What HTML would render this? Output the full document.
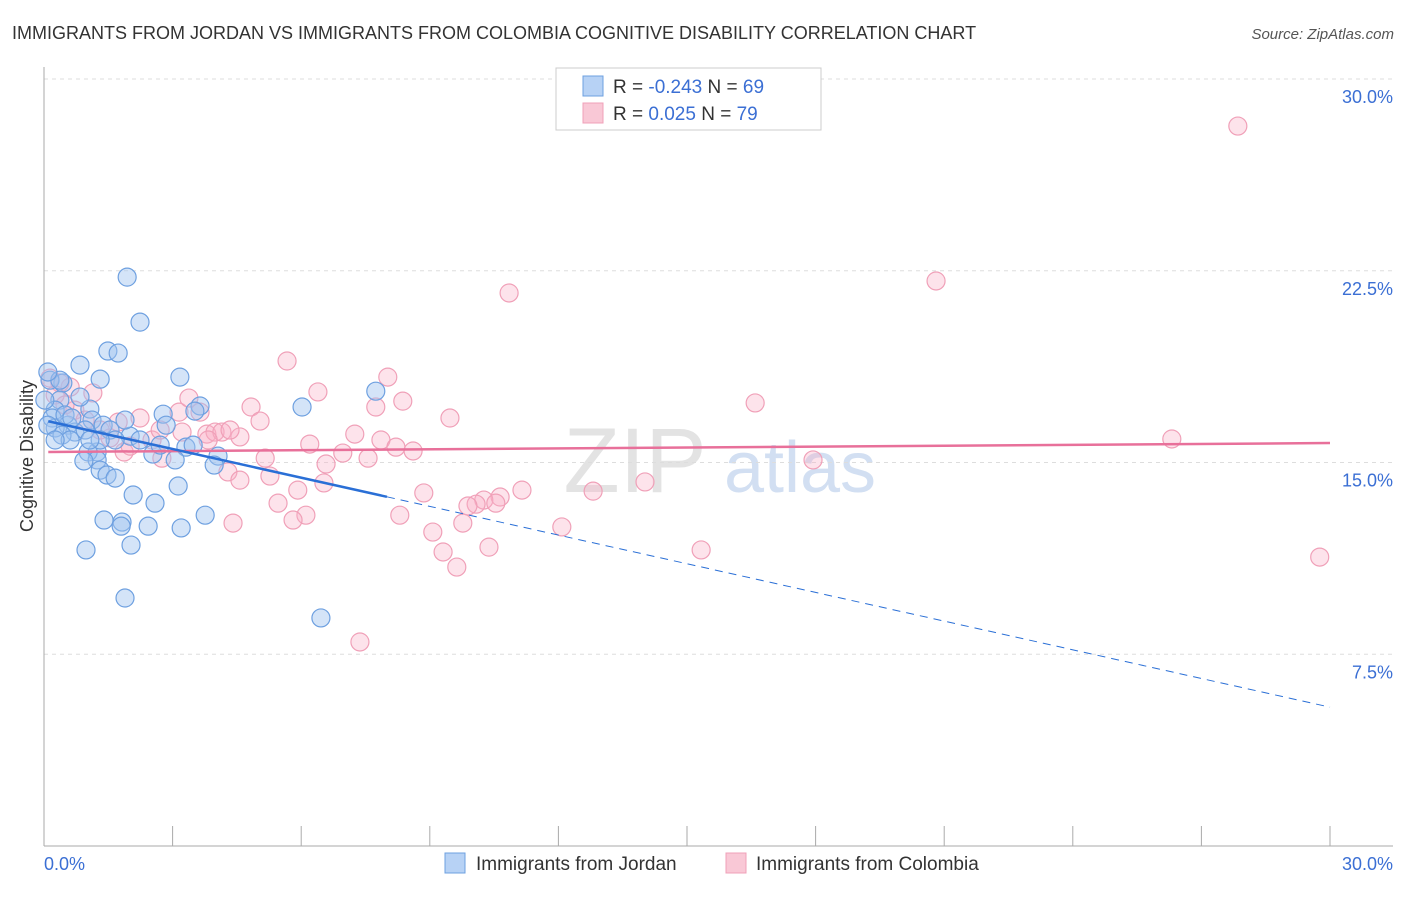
<!DOCTYPE html>
<html><head><meta charset="utf-8">
<style>
body{margin:0;background:#fff;font-family:"Liberation Sans",sans-serif;}
svg text{font-family:"Liberation Sans",sans-serif;}
</style></head>
<body>
<svg id="chart" width="1406" height="892" xmlns="http://www.w3.org/2000/svg">
<text x="12" y="39" font-size="18" fill="#333">IMMIGRANTS FROM JORDAN VS IMMIGRANTS FROM COLOMBIA COGNITIVE DISABILITY CORRELATION CHART</text>
<text x="1394" y="39" font-size="15" fill="#555" text-anchor="end" font-style="italic">Source: ZipAtlas.com</text>
<text transform="translate(33,456) rotate(-90)" font-size="18" fill="#333" text-anchor="middle">Cognitive Disability</text>
<g>
<text x="635" y="492" font-size="92" fill="#ddd" font-family="Liberation Serif" text-anchor="middle" opacity="0.8">ZIP</text>
<text x="800" y="492" font-size="72" fill="#c8d8ef" text-anchor="middle" opacity="0.8">atlas</text>
</g>
<g id="grid"></g>
<g id="axes"></g>
<g id="pts"></g>
<g id="trends"></g>
<g>
<rect x="556" y="68" width="265" height="62" fill="#fff" stroke="#ccc"/>
<rect x="583" y="76" width="20" height="20" fill="#b7d2f5" stroke="#6ea0e0"/>
<rect x="583" y="103" width="20" height="20" fill="#f9c8d6" stroke="#f0a0b8"/>
<text x="613" y="93" font-size="19" fill="#333">R = <tspan fill="#3b6fd4">-0.243</tspan>   N = <tspan fill="#3b6fd4">69</tspan></text>
<text x="613" y="120" font-size="19" fill="#333">R =  <tspan fill="#3b6fd4">0.025</tspan>   N = <tspan fill="#3b6fd4">79</tspan></text>
</g>
<g>
<rect x="445" y="853" width="20" height="20" fill="#b7d2f5" stroke="#6ea0e0"/>
<text x="476" y="870" font-size="19" fill="#333">Immigrants from Jordan</text>
<rect x="726" y="853" width="20" height="20" fill="#f9c8d6" stroke="#f0a0b8"/>
<text x="756" y="870" font-size="19" fill="#333">Immigrants from Colombia</text>
</g>
</svg>
<script>
const yTicks=[7.5,15,22.5,30];
const yTickLabels=["7.5%","15.0%","22.5%","30.0%"];
const xTickLabels=["0.0%","30.0%"];
const jordanX=[1.94,2.24,1.49,1.73,0.84,1.31,3.17,0.44,0.14,7.74,6.02,3.64,3.52,2.78,1.07,0.84,0.37,0.26,0.19,1.12,0.56,2.85,1.38,0.26,0.72,1.54,2.01,0.42,0.09,3.31,3.48,2.54,1.24,1.03,1.66,1.24,0.93,4.06,3.97,1.31,1.47,1.66,3.13,2.08,2.59,1.40,1.82,1.80,2.43,3.20,3.76,2.03,0.98,1.89,6.46,0.37,0.09,0.02,0.61,0.49,0.96,1.89,2.24,0.26,0.65,1.31,2.71,3.06,1.07];
const jordanY=[22.25,20.49,19.36,19.28,18.81,18.26,18.34,18.11,18.22,17.79,17.17,17.21,17.01,16.89,17.09,17.56,17.44,17.05,16.74,16.66,16.46,16.46,16.46,16.35,16.19,16.27,16.03,16.07,16.46,15.60,15.68,15.33,15.41,15.41,15.88,15.10,15.06,15.25,14.90,14.70,14.51,14.39,14.08,13.73,13.41,12.75,12.67,12.51,12.51,12.44,12.94,11.77,11.58,9.70,8.92,18.22,18.54,17.44,15.88,16.86,16.27,16.66,15.88,15.88,16.74,15.88,15.68,15.10,15.88];
const colombiaX=[27.85,20.81,10.85,5.67,8.02,6.39,8.37,7.74,4.83,16.59,9.47,5.04,3.15,3.38,1.14,0.61,0.37,0.26,0.72,1.73,2.24,2.52,3.64,3.80,3.99,4.15,4.57,3.83,3.22,7.25,7.86,8.21,8.61,6.20,6.97,7.56,5.16,6.58,2.75,1.87,2.01,26.31,17.94,4.29,4.57,5.27,5.92,6.53,8.86,11.15,10.64,10.26,10.08,10.54,9.89,5.46,6.11,5.81,8.30,9.07,9.77,12.08,12.81,14.02,4.41,15.33,10.38,9.31,9.63,7.37,29.76,0.96,1.31,0.14,0.49,1.54,2.71,4.34];
const colombiaY=[28.16,22.10,21.63,18.97,18.34,17.76,17.40,17.17,17.17,17.33,16.74,16.62,16.97,17.52,17.72,17.95,18.11,17.64,17.05,16.58,16.74,15.88,16.97,16.11,16.19,16.19,16.00,15.88,16.19,16.11,15.88,15.60,15.45,15.72,15.37,15.17,15.17,14.94,15.17,15.41,15.64,15.92,15.10,14.63,14.31,14.47,13.92,14.20,13.81,13.92,13.65,13.53,13.37,13.41,13.30,13.41,12.94,12.75,12.94,12.28,12.63,12.48,13.88,14.24,12.63,11.58,11.69,11.50,10.91,7.98,11.30,16.66,16.27,18.30,17.25,15.96,16.27,16.27];
const jordanTrend=[16.65,-0.374,8.0];
const colombiaTrend=[15.41,0.0117];
const NS="http://www.w3.org/2000/svg";
const X=v=>44+v*(1330-44)/30;
const Y=v=>846-v*(846-79)/30;
function mk(tag,attrs,parent){const e=document.createElementNS(NS,tag);for(const k in attrs)e.setAttribute(k,attrs[k]);parent.appendChild(e);return e;}
const grid=document.getElementById('grid'),axes=document.getElementById('axes');
yTicks.forEach((t,i)=>{
 const l=mk('line',{x1:44,x2:1393,y1:Y(t),y2:Y(t),stroke:'#ddd','stroke-dasharray':'4,4'},grid);
 
 
 const tx=mk('text',{x:1393,y:Y(t)+24,'font-size':18,fill:'#3b6fd4','text-anchor':'end'},axes);
 tx.textContent=yTickLabels[i];
 
 
});
mk('line',{x1:44,x2:44,y1:67,y2:846,stroke:'#aaa'},axes);
mk('line',{x1:44,x2:1393,y1:846,y2:846,stroke:'#aaa'},axes);
for(let i=0;i<=10;i++){const t=mk('line',{x1:X(i*3),x2:X(i*3),y1:826,y2:846,stroke:'#aaa'},axes);
 
 }
const xl0=mk('text',{x:44,y:870,'font-size':18,fill:'#3b6fd4'},axes);xl0.textContent=xTickLabels[0];


const xl1=mk('text',{x:1393,y:870,'font-size':18,fill:'#3b6fd4','text-anchor':'end'},axes);xl1.textContent=xTickLabels[1];


const pts=document.getElementById('pts');
colombiaX.forEach((v,i)=>{const c=mk('circle',{cx:X(v),cy:Y(colombiaY[i]),r:9,fill:'rgba(248,175,198,0.35)',stroke:'#f0a0b8','stroke-width':1.2},pts);
 
 });
jordanX.forEach((v,i)=>{const c=mk('circle',{cx:X(v),cy:Y(jordanY[i]),r:9,fill:'rgba(160,195,240,0.45)',stroke:'#6ea0e0','stroke-width':1.2},pts);
 
 });
const tr=document.getElementById('trends');
const jy=x=>jordanTrend[0]+jordanTrend[1]*x;
const cy=x=>colombiaTrend[0]+colombiaTrend[1]*x;
const p=mk('line',{x1:X(0.1),y1:Y(cy(0.1)),x2:X(30),y2:Y(cy(30)),stroke:'#e8709a','stroke-width':2.5},tr);


const b1=mk('line',{x1:X(0.1),y1:Y(jy(0.1)),x2:X(jordanTrend[2]),y2:Y(jy(jordanTrend[2])),stroke:'#2a6fd6','stroke-width':2.5},tr);


const b2=mk('line',{x1:X(jordanTrend[2]),y1:Y(jy(jordanTrend[2])),x2:X(30),y2:Y(jy(30)),stroke:'#2a6fd6','stroke-width':1,'stroke-dasharray':'8,6'},tr);


</script>
</body></html>
